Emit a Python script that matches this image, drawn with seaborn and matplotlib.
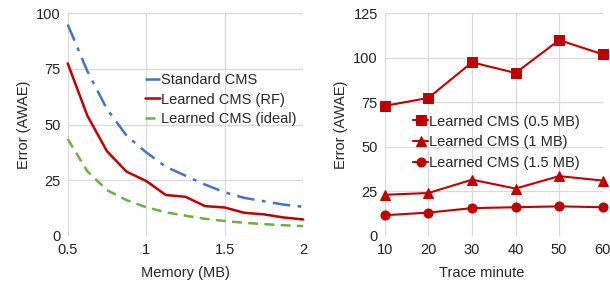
import numpy as np
import pandas as pd
import matplotlib
matplotlib.use("Agg")
import matplotlib.pyplot as plt
import seaborn as sns

# left panel: error vs memory
memory_mb = [0.5, 0.625, 0.75, 0.875, 1.0, 1.125, 1.25, 1.375, 1.5, 1.625, 1.75, 1.875, 2.0]
standard_cms = [95, 74, 57, 45, 37.5, 31, 27, 23, 19.5, 17, 15.5, 14, 13]
learned_rf = [77.5, 54, 38, 28.8, 24.6, 18.3, 17.5, 13.3, 12.7, 10.3, 9.6, 8.2, 7.3]
learned_ideal = [43.5, 29, 20.5, 16, 12.8, 10.5, 9, 7.6, 6.6, 5.8, 5.2, 4.7, 4.3]

# right panel: error vs trace minute
trace_minute = [10, 20, 30, 40, 50, 60]
learned_05mb = [73, 77.5, 97.5, 91.5, 110, 102]
learned_1mb = [23, 24, 31.5, 26.5, 33.5, 31]
learned_15mb = [11.5, 13, 15.5, 16, 16.5, 16]

BLUE = "#4472C4"
RED = "#C00000"
GREEN = "#70AD47"
GRID = "#D9D9D9"

sns.set_theme(style="white")
plt.rcParams["font.family"] = ["Liberation Sans", "DejaVu Sans"]
plt.rcParams["font.size"] = 10.5

fig = plt.figure(figsize=(6.1, 2.85), dpi=100)
ax1 = fig.add_axes([0.111, 0.173, 0.386, 0.78])
ax2 = fig.add_axes([0.631, 0.173, 0.357, 0.78])

df_left = pd.DataFrame({
    "Memory": memory_mb * 3,
    "Error": standard_cms + learned_rf + learned_ideal,
    "Series": ["Standard CMS"] * len(memory_mb)
              + ["Learned CMS (RF)"] * len(memory_mb)
              + ["Learned CMS (ideal)"] * len(memory_mb),
})
left_styles = {
    "Standard CMS": (BLUE, (0, (7, 3, 1.5, 3))),
    "Learned CMS (RF)": (RED, "-"),
    "Learned CMS (ideal)": (GREEN, (0, (4, 2.5))),
}
for name, (color, ls) in left_styles.items():
    sub = df_left[df_left["Series"] == name]
    sns.lineplot(data=sub, x="Memory", y="Error", color=color, linestyle=ls,
                 linewidth=1.8, label=name, ax=ax1)

ax1.set_xlim(0.5, 2)
ax1.set_ylim(0, 100)
ax1.set_xticks([0.5, 1, 1.5, 2])
ax1.set_xticklabels(["0.5", "1", "1.5", "2"])
ax1.set_yticks([0, 25, 50, 75, 100])
ax1.set_xlabel("Memory (MB)")
ax1.set_ylabel("Error (AWAE)")
ax1.xaxis.set_label_coords(0.5, -0.135)
ax1.legend(loc="upper left", bbox_to_anchor=(0.33, 0.73), frameon=False,
           handlelength=1.0, handletextpad=0.1, labelspacing=0.35,
           borderaxespad=0, borderpad=0, fontsize=10.5)

df_right = pd.DataFrame({
    "Minute": trace_minute * 3,
    "Error": learned_05mb + learned_1mb + learned_15mb,
    "Series": ["Learned CMS (0.5 MB)"] * 6 + ["Learned CMS (1 MB)"] * 6
              + ["Learned CMS (1.5 MB)"] * 6,
})
right_markers = {
    "Learned CMS (0.5 MB)": "s",
    "Learned CMS (1 MB)": "^",
    "Learned CMS (1.5 MB)": "o",
}
for name, mk in right_markers.items():
    sub = df_right[df_right["Series"] == name]
    sns.lineplot(data=sub, x="Minute", y="Error", color=RED, marker=mk,
                 markersize=6.5, markeredgecolor=RED, linewidth=1.5,
                 label=name, ax=ax2)

ax2.set_xlim(10, 60)
ax2.set_ylim(0, 125)
ax2.set_xticks(trace_minute)
ax2.set_yticks([0, 25, 50, 75, 100, 125])
ax2.set_xlabel("Trace minute")
ax2.set_ylabel("Error (AWAE)")
ax2.xaxis.set_label_coords(0.445, -0.135)
ax2.legend(loc="upper left", bbox_to_anchor=(0.13, 0.545), frameon=False,
           handlelength=1.0, handletextpad=0.1, labelspacing=0.45,
           borderaxespad=0, borderpad=0, fontsize=10.5)

for ax in (ax1, ax2):
    ax.grid(True, color=GRID, linewidth=0.9)
    ax.set_axisbelow(True)
    for s in ax.spines.values():
        s.set_visible(False)
    ax.tick_params(length=3, color=GRID, labelsize=10.5, pad=2, colors="#222222")
    ax.xaxis.label.set_size(10.5)
    ax.yaxis.label.set_size(10.5)
    for line in ax.get_lines():
        line.set_clip_on(False)

fig.savefig("out.png", dpi=100)
